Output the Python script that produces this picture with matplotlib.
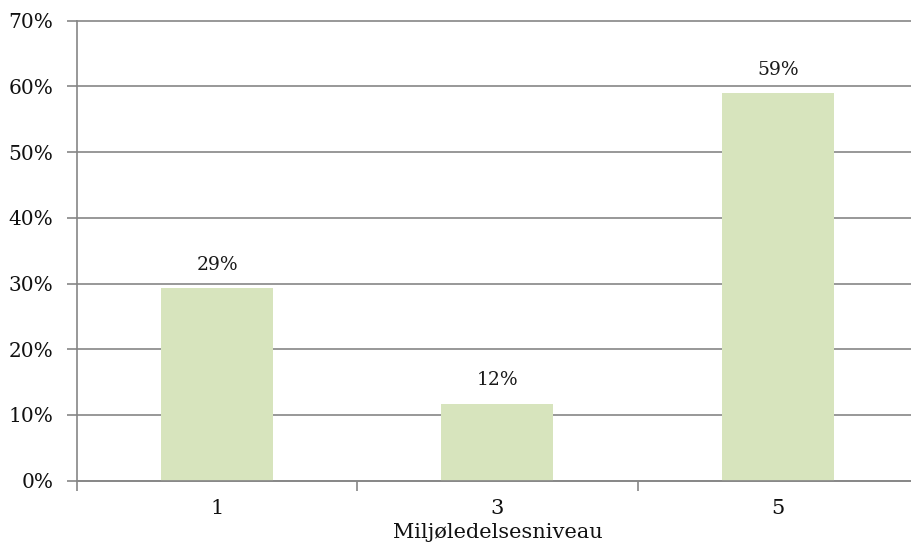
import matplotlib
matplotlib.use('Agg')
import matplotlib.pyplot as plt
from matplotlib.ticker import FixedLocator, PercentFormatter

# data
categories = ['1', '3', '5']
shares = [0.293, 0.117, 0.59]
bar_labels = ['29%', '12%', '59%']

grid_color = '#868686'
bar_color = '#D7E4BD'

plt.rcParams['font.family'] = ['DejaVu Serif']

fig = plt.figure(figsize=(9.12, 5.51), dpi=100)
ax = fig.add_axes([0.0844, 0.1276, 0.922, 0.8348])

x = list(range(len(categories)))
bars = ax.bar(x, shares, width=0.4, color=bar_color, zorder=3)

for bar, lab in zip(bars, bar_labels):
    ax.text(bar.get_x() + bar.get_width() / 2, bar.get_height() + 0.022, lab,
            ha='center', va='bottom', fontsize=13.5, color='#1a1a1a')

ax.set_xlim(-0.5, len(categories) - 0.5)
ax.set_ylim(0, 0.7)

# y axis
ax.yaxis.set_major_locator(FixedLocator([i / 10 for i in range(8)]))
ax.yaxis.set_major_formatter(PercentFormatter(1.0, decimals=0))
ax.yaxis.grid(True, color=grid_color, linewidth=1.2, zorder=0)
for gl in ax.get_ygridlines():
    gl.set_clip_on(False)
ax.tick_params(axis='y', length=7, width=1.2, color=grid_color, labelsize=14.5,
               labelcolor='#111111', pad=10)

# x axis: tick marks between categories, labels at centres
ax.xaxis.set_major_locator(FixedLocator([i - 0.5 for i in range(len(categories) + 1)]))
ax.xaxis.set_major_formatter(plt.NullFormatter())
ax.xaxis.set_minor_locator(FixedLocator(x))
ax.set_xticklabels(categories, minor=True)
ax.tick_params(axis='x', which='major', length=7, width=1.2, color=grid_color)
ax.tick_params(axis='x', which='minor', length=0, labelsize=15, pad=13,
               labelcolor='#111111')
ax.set_xlabel('Miljøledelsesniveau', fontsize=15, labelpad=4, color='#111111')

for side in ['top', 'right']:
    ax.spines[side].set_visible(False)
for side in ['left', 'bottom']:
    ax.spines[side].set_color(grid_color)
    ax.spines[side].set_linewidth(1.2)
    ax.spines[side].set_zorder(4)

fig.savefig('out.png', dpi=100)
